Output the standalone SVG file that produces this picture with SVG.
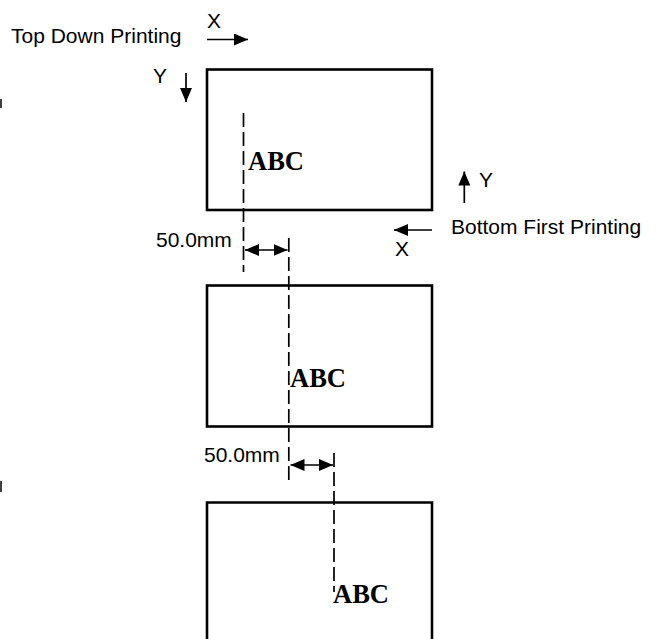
<svg xmlns="http://www.w3.org/2000/svg" width="659" height="639" viewBox="0 0 659 639">
<defs>
<style>
.box{fill:#fff;stroke:#000;stroke-width:2.6}
.dash{fill:none;stroke:#000;stroke-width:1.7;stroke-dasharray:14 5}
.arr{fill:none;stroke:#000;stroke-width:1.7}
.sans{font-family:"Liberation Sans",Arial,sans-serif;font-size:21px;fill:#000}
.abc{font-family:"Liberation Serif","Times New Roman",serif;font-size:26.5px;font-weight:bold;fill:#000}
</style>
<marker id="ah" viewBox="0 0 14 12" refX="14" refY="6" markerWidth="14" markerHeight="12" markerUnits="userSpaceOnUse" orient="auto-start-reverse">
<path d="M0,0 L14,6 L0,12 Z" fill="#000"/>
</marker>
</defs>
<rect width="659" height="639" fill="#fff"/>
<g id="edge-marks">
<line x1="1" y1="99" x2="1" y2="108" stroke="#000" stroke-width="1.5"/>
<line x1="1" y1="481" x2="1" y2="492" stroke="#000" stroke-width="1.5"/>
</g>
<g id="label1">
<text class="sans" x="11" y="43">Top Down Printing</text>
<text class="sans" x="207" y="28">X</text>
<text class="sans" x="153" y="83">Y</text>
</g>
<g id="label2">
<text class="sans" x="479" y="187">Y</text>
<text class="sans" x="451" y="234">Bottom First Printing</text>
<text class="sans" x="395" y="256">X</text>
</g>
<g id="box1">
<rect class="box" x="207" y="69.5" width="225" height="140.5"/>
<text class="abc" x="248" y="170">ABC</text>
</g>
<g id="box2">
<rect class="box" x="207" y="285.5" width="225" height="141"/>
<text class="abc" x="290" y="387">ABC</text>
</g>
<g id="box3">
<path class="box" d="M207,645 L207,502.5 L432,502.5 L432,645"/>
<text class="abc" x="333" y="603">ABC</text>
</g>
<g id="dims">
<text class="sans" x="156" y="247">50.0mm</text>
<text class="sans" x="204" y="462">50.0mm</text>
</g>
<g id="connectors">
<line class="arr" x1="207" y1="39.5" x2="248" y2="39.5" marker-end="url(#ah)"/>
<line class="arr" x1="186" y1="73" x2="186" y2="102" marker-end="url(#ah)"/>
<line class="arr" x1="464.3" y1="203" x2="464.3" y2="171.5" marker-end="url(#ah)"/>
<line class="arr" x1="432" y1="230" x2="394" y2="230" marker-end="url(#ah)"/>
<line class="dash" x1="243.5" y1="113" x2="243.5" y2="272"/>
<line class="dash" x1="288.8" y1="238" x2="288.8" y2="485"/>
<line class="dash" x1="334" y1="453" x2="334" y2="592"/>
<line class="arr" x1="245" y1="250" x2="287.5" y2="250" marker-start="url(#ah)" marker-end="url(#ah)"/>
<line class="arr" x1="290.5" y1="465" x2="333" y2="465" marker-start="url(#ah)" marker-end="url(#ah)"/>
</g>
</svg>
